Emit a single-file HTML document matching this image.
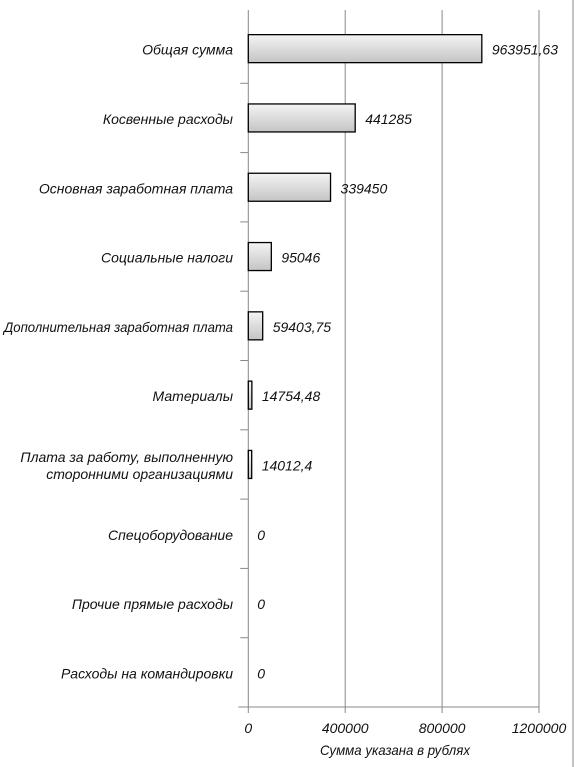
<!DOCTYPE html>
<html><head><meta charset="utf-8"><style>
html,body{margin:0;padding:0;background:#fff;}
svg{display:block;}
text{font-family:"Liberation Sans",sans-serif;font-style:italic;fill:#111;}
</style></head><body>
<svg id="chart" width="576" height="767" viewBox="0 0 576 767" xmlns="http://www.w3.org/2000/svg">
<defs><linearGradient id="g" x1="0" y1="0" x2="0" y2="1"><stop offset="0" stop-color="#f4f4f4"/><stop offset="1" stop-color="#c4c4c4"/></linearGradient></defs>
<line x1="573" y1="0" x2="573" y2="767" stroke="#888" stroke-width="1"/>
<g id="grid"></g><g id="bars"></g><g id="labels"></g>
<text x="395" y="755" text-anchor="middle" font-size="14" textLength="150" lengthAdjust="spacingAndGlyphs">Сумма указана в рублях</text>
</svg>
<script>
const categories=[["Общая сумма"],["Косвенные расходы"],["Основная заработная плата"],["Социальные налоги"],["Дополнительная заработная плата"],["Материалы"],["Плата за работу, выполненную","сторонними организациями"],["Спецоборудование"],["Прочие прямые расходы"],["Расходы на командировки"]];
const values=[963951.63,441285,339450,95046,59403.75,14754.48,14012.4,0,0,0];
const valueLabels=["963951,63","441285","339450","95046","59403,75","14754,48","14012,4","0","0","0"];
const ticks=[0,400000,800000,1200000];
const tickLabels=["0","400000","800000","1200000"];
const NS="http://www.w3.org/2000/svg";
const x0=248.3,x1=539,xMax=1200000,yTop=14,yBottom=707;
const step=(yBottom-yTop)/categories.length;
const xs=v=>x0+(v/xMax)*(x1-x0);
const yc=i=>yTop+step*(i+0.5);
function mk(tag,attrs,parent){const e=document.createElementNS(NS,tag);for(const k in attrs)e.setAttribute(k,attrs[k]);parent.appendChild(e);return e;}
const grid=document.getElementById('grid'),bars=document.getElementById('bars'),labels=document.getElementById('labels');
ticks.forEach((t,i)=>{
  const x=xs(t);
  const l=mk('line',{x1:x,y1:10,x2:x,y2:yBottom+6,stroke:'#888','stroke-width':1},grid);
  
  
  const tx=mk('text',{x:x,y:733,'text-anchor':'middle','font-size':14},grid);
  tx.textContent=tickLabels[i];
  
  
});
const ax=mk('line',{x1:x0-10,y1:yBottom,x2:x1,y2:yBottom,stroke:'#888'},grid);


for(let i=1;i<categories.length;i++){
  const t=mk('line',{x1:x0-8,y1:yTop+step*i,x2:x0,y2:yTop+step*i,stroke:'#888'},grid);
  
  
}
categories.forEach((c,i)=>{
  const y=yc(i);
  const w=xs(values[i])-x0;
  if(w>0){
    const r=mk('rect',{x:x0,y:y-14,width:w,height:28,fill:'url(#g)',stroke:'#000','stroke-width':1.3},bars);
    
    
  }
  const vl=mk('text',{x:x0+w+(w>0?10:9),y:y+6,'font-size':14},labels);
  vl.textContent=valueLabels[i];
  
  
  c.forEach((line,j)=>{
    const cy=y+6+(j-(c.length-1)/2)*17;
    const tl=mk('text',{x:233,y:cy,'text-anchor':'end','font-size':14},labels);
    tl.textContent=line;
    
    
    if(tl.getComputedTextLength()>229){
      tl.setAttribute('textLength',229);
      tl.setAttribute('lengthAdjust','spacingAndGlyphs');
    }
  });
});
</script>
</body></html>
